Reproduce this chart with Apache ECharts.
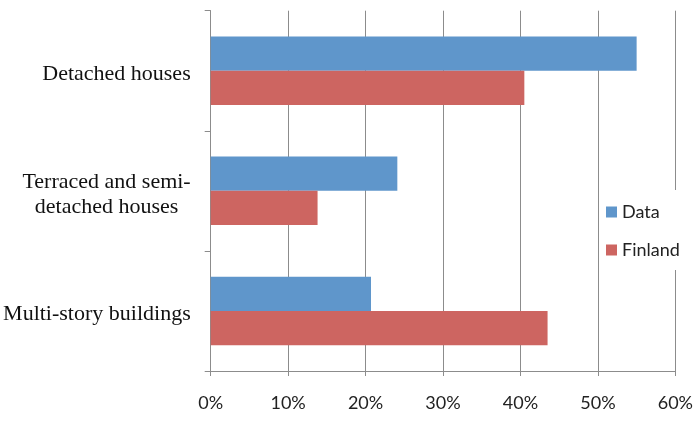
<!DOCTYPE html>
<html>
<head>
<meta charset="utf-8">
<script src="https://cdn.jsdelivr.net/npm/echarts@6/dist/echarts.min.js"></script>
<style>html,body{margin:0;padding:0;background:#fff;}#c{width:696px;height:422px;}</style>
</head>
<body>
<div id="c"></div>
<script>
const categories = ['Detached houses', 'Terraced and semi-\ndetached houses', 'Multi-story buildings'];
const seriesNames = ['Data', 'Finland'];
const dataValues = [55.0, 24.1, 20.7];
const finlandValues = [40.5, 13.8, 43.5];
const tickValues = [0, 10, 20, 30, 40, 50, 60];

const chart = echarts.init(document.getElementById('c'), null, {renderer: 'canvas'});
const gray = '#8c8c8c';
chart.setOption({
  animation: false,
  backgroundColor: '#fff',
  grid: {left: 210.7, right: 16.7, top: 10.7, bottom: 51, containLabel: false},
  legend: {
    orient: 'vertical',
    left: 600, top: 190,
    padding: [12, 6, 10, 6],
    backgroundColor: '#fff',
    itemGap: 18,
    itemWidth: 11, itemHeight: 11,
    icon: 'rect',
    data: seriesNames,
    textStyle: {fontFamily: 'Lato', fontSize: 18, color: '#222', lineHeight: 20}
  },
  xAxis: {
    type: 'value',
    min: tickValues[0], max: tickValues[tickValues.length - 1], interval: 10,
    axisLine: {show: true, lineStyle: {color: gray, width: 1}},
    axisTick: {show: true, length: 5, lineStyle: {color: gray}},
    splitLine: {show: true, lineStyle: {color: gray, width: 1}},
    axisLabel: {formatter: '{value}%', fontFamily: 'Lato', fontSize: 18, color: '#222', margin: 23}
  },
  yAxis: {
    type: 'category',
    inverse: true,
    data: categories,
    axisLine: {show: true, lineStyle: {color: gray, width: 1}},
    axisTick: {show: true, length: 6, lineStyle: {color: gray}},
    axisLabel: {
      margin: 20,
      padding: [7, 0, 0, 0],
      formatter: v => v.split('\n').map(s => '{c|' + s + '}').join('\n'),
      rich: {c: {align: 'center', fontFamily: 'Liberation Serif', fontSize: 22, color: '#111', lineHeight: 25}}
    }
  },
  series: [
    {name: seriesNames[0], type: 'bar', data: dataValues, barGap: '0%', barCategoryGap: '43%', itemStyle: {color: '#5F96CB'}},
    {name: seriesNames[1], type: 'bar', data: finlandValues, barGap: '0%', barCategoryGap: '43%', itemStyle: {color: '#CD6561'}}
  ]
});
</script>
</body>
</html>
